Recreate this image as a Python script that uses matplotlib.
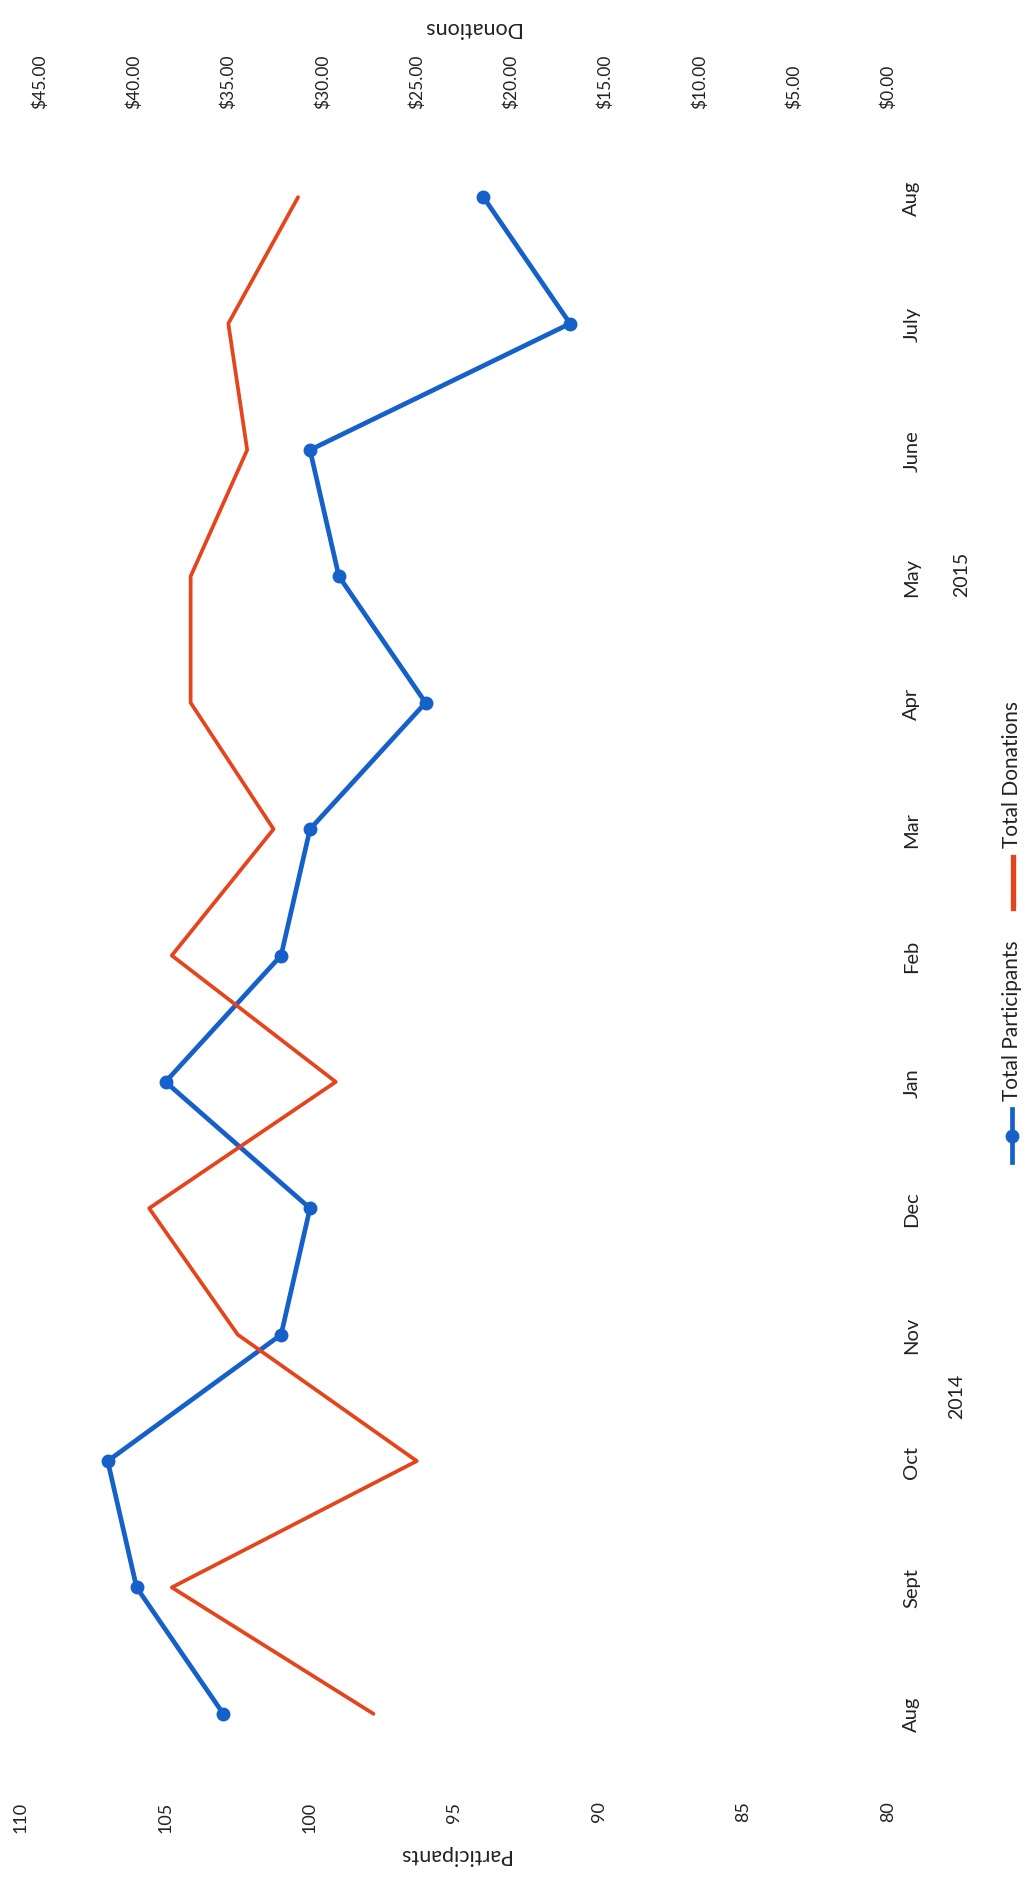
import matplotlib
matplotlib.use("Agg")
import matplotlib.pyplot as plt
from matplotlib.lines import Line2D
import numpy as np

plt.rcParams['font.family'] = ['Lato', 'DejaVu Sans']

# ---- data ----
months = ["Aug", "Sept", "Oct", "Nov", "Dec", "Jan", "Feb", "Mar", "Apr",
          "May", "June", "July", "Aug"]
participants = [103, 106, 107, 101, 100, 105, 101, 100, 96, 99, 100, 91, 94]
donations = [27.3, 38.0, 25.0, 34.5, 39.2, 29.3, 38.0, 32.6, 37.0, 37.0,
             34.0, 35.0, 31.3]
part_ticks = [80, 85, 90, 95, 100, 105, 110]
don_ticks = [0, 5, 10, 15, 20, 25, 30, 35, 40, 45]
years = ["2014", "2015"]

BLUE = "#1660C9"
ORANGE = "#E5441C"
TXT = "#222222"

W, H = 1029, 1881
fig = plt.figure(figsize=(W / 100, H / 100), dpi=100)
fig.patch.set_facecolor("white")

def fx(px):
    return px / W

def fy(py):
    return 1 - py / H

left, right, top, bottom = 21, 888, 135, 1778
ax = fig.add_axes([fx(left), fy(bottom), (right - left) / W, (bottom - top) / H])
ax.set_facecolor("none")
idx = np.arange(len(months))

ax.plot(participants, idx, color=BLUE, lw=3.4, marker="o", ms=9,
        solid_capstyle="round", zorder=3)
ax.set_xlim(110, 80)
ax.set_ylim(-0.5, len(months) - 0.5)

ax2 = ax.twiny()
ax2.set_facecolor("none")
ax2.plot(donations, idx, color=ORANGE, lw=2.7, solid_capstyle="round", zorder=3)
ax2.set_xlim(46.0, 0.5)

for a in (ax, ax2):
    for s in a.spines.values():
        s.set_visible(False)

# participants ticks (bottom)
ax.set_xticks(part_ticks)
ax.set_xticklabels([str(v) for v in part_ticks], rotation=90, fontsize=13,
                   color=TXT)
ax.tick_params(axis="x", length=0, pad=17)

# donations ticks (top)
ax2.set_xticks(don_ticks)
ax2.set_xticklabels(["${:.2f}".format(v) for v in don_ticks], rotation=90,
                    fontsize=12.5, color=TXT)
ax2.tick_params(axis="x", length=0, pad=19)

# month ticks (right)
ax.yaxis.tick_right()
ax.set_yticks(idx)
ax.set_yticklabels(months, rotation=90, fontsize=14.5, color=TXT, va="center")
ax.tick_params(axis="y", length=0, pad=11)

# axis titles (rotated as in the reference)
fig.text(fx(454), fy(1855), "Participants", rotation=180, ha="center",
         va="center", fontsize=15.5, color=TXT)
fig.text(fx(471), fy(28), "Donations", rotation=180, ha="center",
         va="center", fontsize=15.5, color=TXT)

# year labels
fig.text(fx(957), fy(1396), years[0], rotation=90, ha="center", va="center",
         fontsize=14, color=TXT)
fig.text(fx(962), fy(574), years[1], rotation=90, ha="center", va="center",
         fontsize=14, color=TXT)

# legend (vertical, drawn manually)
fig.add_artist(Line2D([fx(1012), fx(1012)], [fy(1163), fy(1110)], color=BLUE,
                      lw=3.4, transform=fig.transFigure))
fig.add_artist(Line2D([fx(1012)], [fy(1137)], color=BLUE, marker="o", ms=9,
                      lw=0, transform=fig.transFigure))
fig.text(fx(1012), fy(1101), "Total Participants", rotation=90, ha="center",
         va="bottom", fontsize=15, color=TXT)
fig.add_artist(Line2D([fx(1013), fx(1013)], [fy(909), fy(858)], color=ORANGE,
                      lw=3.8, transform=fig.transFigure))
fig.text(fx(1012), fy(848), "Total Donations", rotation=90, ha="center",
         va="bottom", fontsize=15, color=TXT)

fig.savefig("out.png", dpi=100, facecolor="white")
